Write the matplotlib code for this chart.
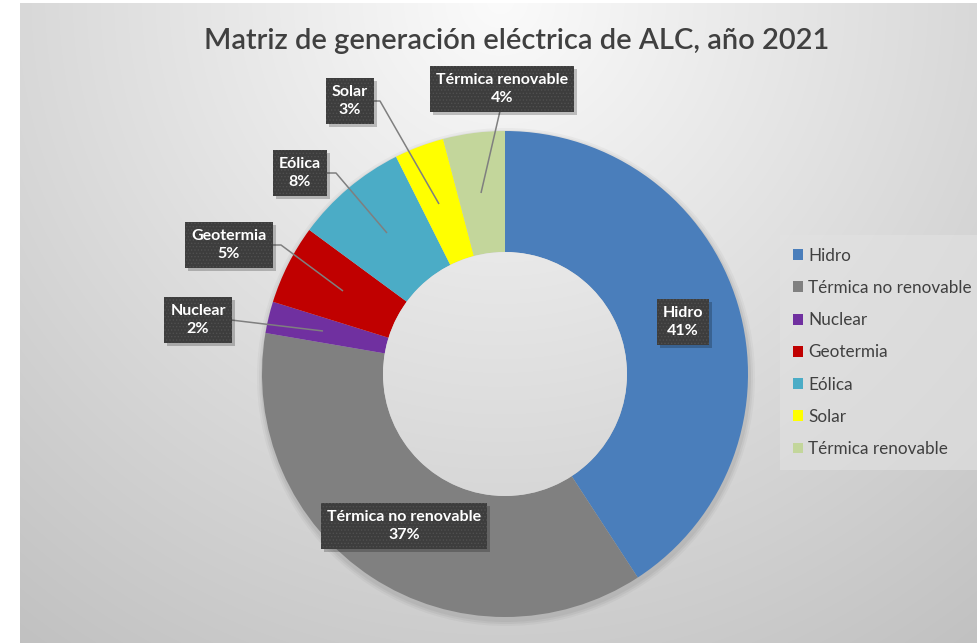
"""Donut chart: Matriz de generación eléctrica de ALC, año 2021."""
import matplotlib
matplotlib.use('Agg')
import matplotlib.pyplot as plt
from matplotlib.patches import Patch, Rectangle
import numpy as np

plt.rcParams['font.family'] = ['Lato', 'DejaVu Sans']
plt.rcParams['hatch.linewidth'] = 0.6

# --- data (shares, %) ---
categories = ["Hidro", "Térmica no renovable", "Nuclear", "Geotermia",
              "Eólica", "Solar", "Térmica renovable"]
shares = [40.8, 36.9, 2.1, 5.3, 7.5, 3.3, 4.1]
labels_pct = ["41%", "37%", "2%", "5%", "8%", "3%", "4%"]
colors = ["#4a7ebb", "#808080", "#7030a0", "#c00000", "#4bacc6", "#ffff00", "#c3d69b"]

W, H = 978, 643
fig = plt.figure(figsize=(W / 100, H / 100), dpi=100)
ax = fig.add_axes([0, 0, 1, 1])

# radial background gradient (light at top centre, grey towards the corners)
gx, gy = np.meshgrid(np.arange(20, W), np.arange(3, H))
dist = np.hypot(gx - 500, gy)
shade = np.clip(251 - 58 * dist / 800, 185, 252) / 255
bg = np.dstack([shade, shade, shade])
ax.imshow(bg, extent=(20, W, H, 3), origin='upper', zorder=0, aspect='auto')

# donut (pixel coordinates, y pointing down)
cx, cy, R = 505, 374, 243
for k, a in enumerate([0.05, 0.04, 0.03]):
    ax.add_patch(plt.Circle((cx + 1, cy + 3), R + 2 + 2 * k, color='black',
                            alpha=a, lw=0, zorder=1))
ax.pie(shares, colors=colors, radius=R, center=(cx, cy), startangle=270,
       counterclock=True, wedgeprops=dict(width=121, edgecolor='none', zorder=2))
hole_img = ax.imshow(bg, extent=(20, W, H, 3), origin='upper', zorder=3, aspect='auto')
hole_img.set_clip_path(plt.Circle((cx, cy), R - 121, transform=ax.transData))

ax.set_xlim(0, W)
ax.set_ylim(H, 0)
ax.set_aspect('auto')
ax.axis('off')

# --- data labels ---
label_pos = {
    "Hidro": (683, 322),
    "Térmica no renovable": (404, 526),
    "Nuclear": (198, 320),
    "Geotermia": (229, 245),
    "Eólica": (300, 173),
    "Solar": (350, 101),
    "Térmica renovable": (502, 89),
}
leaders = {
    "Nuclear": [(231, 320), (323, 331)],
    "Geotermia": [(273, 245), (281, 245), (343, 291)],
    "Eólica": [(326, 173), (336, 173), (387, 233)],
    "Solar": [(373, 101), (380, 101), (439, 204)],
    "Térmica renovable": [(500, 111), (481, 193)],
}
for name, pts in leaders.items():
    xs, ys = zip(*pts)
    ax.plot(xs, ys, color='#7f7f7f', lw=1.1, zorder=4, solid_capstyle='butt')

label_texts = []
for name, pct in zip(categories, labels_pct):
    x, y = label_pos[name]
    t = ax.text(x, y, f"{name}\n{pct}", ha='center', va='center', fontsize=11.5,
                fontweight='bold', color='white', linespacing=1.45, zorder=6,
                bbox=dict(boxstyle='square,pad=0.38', fc='#3d3d3d', ec='#505050',
                          lw=0, hatch='.....'))
    label_texts.append(t)

# drop shadows behind the label boxes
fig.canvas.draw()
inv = ax.transData.inverted()
for t in label_texts:
    ext = t.get_bbox_patch().get_window_extent()
    (x0, y0), (x1, y1) = inv.transform([(ext.x0, ext.y0), (ext.x1, ext.y1)])
    ax.add_patch(Rectangle((min(x0, x1) + 3, min(y0, y1) + 3), abs(x1 - x0), abs(y1 - y0),
                           fc='black', alpha=0.22, lw=0, zorder=5))

# --- title ---
ax.text(517, 41, "Matriz de generación eléctrica de ALC, año 2021", ha='center', va='center',
        fontsize=21, fontweight='semibold', color='#404040', zorder=6)

# --- legend ---
handles = [Patch(facecolor=c, edgecolor='none') for c in colors]
leg = fig.legend(handles, categories, loc='upper left',
                 bbox_to_anchor=(785 / W, 1 - 240 / H), fontsize=12.3, frameon=True,
                 handlelength=0.6, handleheight=0.6, handletextpad=0.3,
                 labelspacing=0.95, borderpad=0.45, borderaxespad=0)
leg.get_frame().set_facecolor('#e2e2e2')
leg.get_frame().set_edgecolor('none')
leg.get_frame().set_alpha(0.6)
leg.get_frame().set_boxstyle('square')
for t in leg.get_texts():
    t.set_color('#404040')

fig.savefig("out.png", dpi=100, facecolor='white')
